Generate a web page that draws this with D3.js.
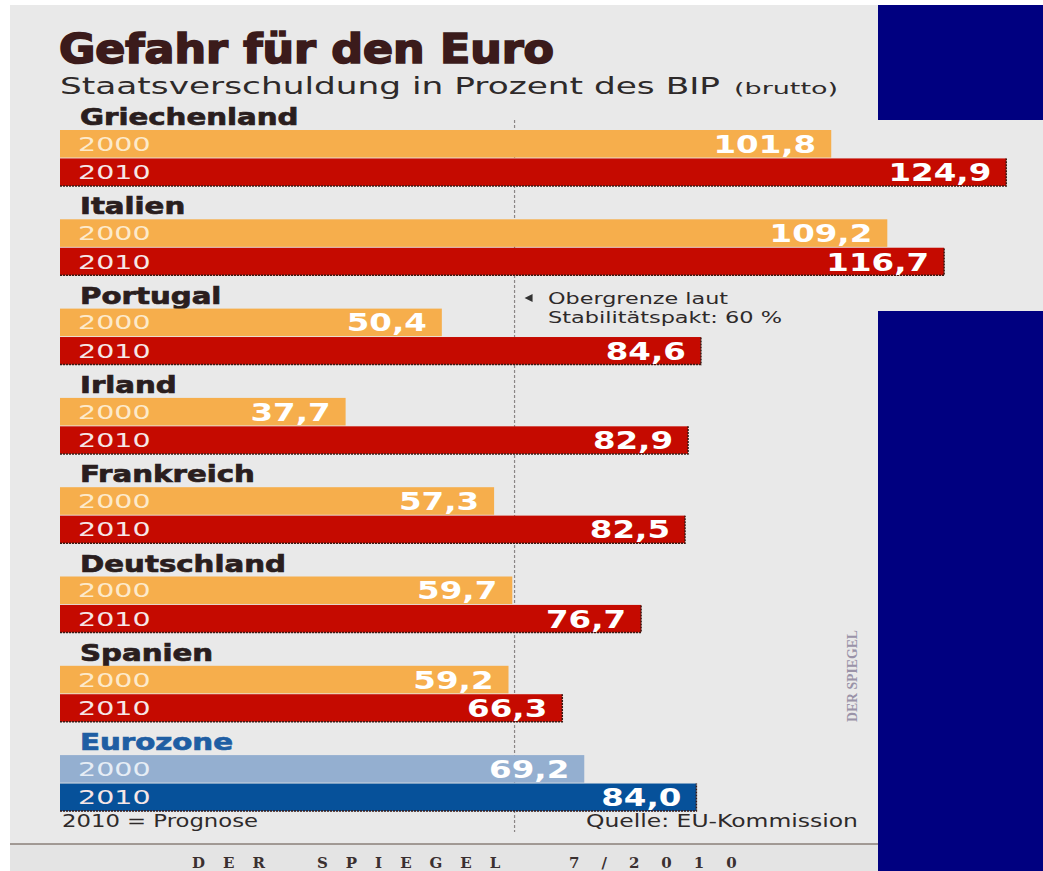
<!DOCTYPE html>
<html>
<head>
<meta charset="utf-8">
<script src="https://cdn.jsdelivr.net/npm/d3@7"></script>
<style>
  html, body { margin: 0; padding: 0; background: #fff; }
  svg { display: block; }
</style>
</head>
<body>
<div id="graph"></div>
<script>
const countries = ['Griechenland', 'Italien', 'Portugal', 'Irland', 'Frankreich', 'Deutschland', 'Spanien', 'Eurozone']
const years = ['2000', '2010']
const values2000 = [101.8, 109.2, 50.4, 37.7, 57.3, 59.7, 59.2, 69.2]
const values2010 = [124.9, 116.7, 84.6, 82.9, 82.5, 76.7, 66.3, 84.0]
const limit = 60

const width = 1043
const height = 871

const de = d3.formatLocale({decimal: ',', thousands: '.', grouping: [3], currency: ['', ' €']})
const fmt = de.format('.1f')

const rows = countries.map((c, i) => ({
  country: c,
  euro: c === 'Eurozone',
  bars: [
    {year: years[0], value: values2000[i]},
    {year: years[1], value: values2010[i]}
  ]
}))

const svg = d3.select('#graph')
  .append('svg')
  .attr('width', width)
  .attr('height', height)

// paper
svg.append('rect').attr('x', 10).attr('y', 5).attr('width', 870).attr('height', 866).attr('fill', '#e9e9e9')
// footer band
svg.append('rect').attr('x', 10).attr('y', 844).attr('width', 870).attr('height', 27).attr('fill', '#e4e4e4')
svg.append('line').attr('x1', 10).attr('x2', 880).attr('y1', 844).attr('y2', 844)
  .attr('stroke', '#8a7f78').attr('stroke-width', 1.5)

// navy blocks on the right
svg.append('rect').attr('x', 878).attr('y', 5).attr('width', 165).attr('height', 115).attr('fill', '#000080')
svg.append('rect').attr('x', 878).attr('y', 311).attr('width', 165).attr('height', 560).attr('fill', '#000080')
svg.append('rect').attr('x', 880).attr('y', 120).attr('width', 163).attr('height', 191).attr('fill', '#e9e9e9')

const x = d3.scaleLinear().domain([0, 125]).range([60, 1007])

const y = d3.scaleBand().domain(countries).range([103, 103 + 8 * 89.3])
const yInner = d3.scaleBand().domain(years).range([27, 83]).paddingInner(0.03)

// title
svg.append('text')
  .attr('x', 59).attr('y', 63)
  .attr('font-family', 'DejaVu Sans Condensed, DejaVu Sans')
  .attr('font-weight', 'bold')
  .attr('font-size', 41)
  .attr('textLength', 495)
  .attr('lengthAdjust', 'spacingAndGlyphs')
  .attr('fill', '#3b1b1b')
  .attr('stroke', '#3b1b1b')
  .attr('stroke-width', 1.6)
  .text('Gefahr für den Euro')

const sub = svg.append('text')
  .attr('x', 60).attr('y', 94)
  .attr('font-family', 'DejaVu Sans')
  .attr('font-size', 23)
  .attr('fill', '#2e2a2a')
sub.append('tspan').attr('textLength', 660).attr('lengthAdjust', 'spacingAndGlyphs')
  .text('Staatsverschuldung in Prozent des BIP')
sub.append('tspan').attr('x', 734).attr('font-size', 16).attr('textLength', 104)
  .attr('lengthAdjust', 'spacingAndGlyphs').text('(brutto)')

// 60% guide
svg.append('line')
  .attr('x1', x(limit)).attr('x2', x(limit))
  .attr('y1', 120).attr('y2', 832)
  .attr('stroke', '#8a8585')
  .attr('stroke-width', 1.2)
  .attr('stroke-dasharray', '3,2')

const colors = {
  normal: {'2000': '#f6ae4c', '2010': '#c50a00'},
  euro: {'2000': '#94afd0', '2010': '#06519a'}
}

const g = svg.selectAll('g.row')
  .data(rows)
  .join('g')
  .attr('class', 'row')
  .attr('transform', d => `translate(0,${y(d.country)})`)

g.append('text')
  .attr('transform', 'translate(80,22) scale(1.3,1)')
  .attr('font-family', 'DejaVu Sans')
  .attr('font-weight', 'bold')
  .attr('font-size', 22.5)
  .attr('fill', d => d.euro ? '#1f5ea3' : '#2a1e1e')
  .attr('stroke', d => d.euro ? '#1f5ea3' : '#2a1e1e')
  .attr('stroke-width', 0.7)
  .text(d => d.country)

const bar = g.selectAll('g.bar')
  .data(d => d.bars.map(b => ({...b, euro: d.euro})))
  .join('g')
  .attr('class', 'bar')
  .attr('transform', d => `translate(0,${yInner(d.year)})`)

bar.append('rect')
  .attr('x', x(0))
  .attr('width', d => x(d.value) - x(0))
  .attr('height', yInner.bandwidth())
  .attr('fill', d => (d.euro ? colors.euro : colors.normal)[d.year])

bar.filter(d => d.year === '2010').append('path')
  .attr('d', d => `M${x(0)},${yInner.bandwidth()}H${x(d.value)}V0`)
  .attr('fill', 'none')
  .attr('stroke', '#3a1a14')
  .attr('stroke-width', 1.5)
  .attr('stroke-dasharray', '2,1')

bar.append('text')
  .attr('transform', `translate(78,${yInner.bandwidth() / 2 + 7}) scale(1.5,1)`)
  .attr('font-family', 'DejaVu Sans')
  .attr('font-size', 19)
  .attr('fill', d => d.year === '2000' ? (d.euro ? '#e6edf5' : '#fdeacb') : '#f6e6e6')
  .text(d => d.year)

bar.append('text')
  .attr('transform', d => `translate(${x(d.value) - 15},${yInner.bandwidth() / 2 + 9}) scale(1.3,1)`)
  .attr('text-anchor', 'end')
  .attr('font-family', 'DejaVu Sans')
  .attr('font-weight', 'bold')
  .attr('font-size', 25)
  .attr('fill', '#ffffff')
  .text(d => fmt(d.value))

// annotation
svg.append('path')
  .attr('d', `M${x(limit) + 10},298 l8,-4 v8 z`)
  .attr('fill', '#333')
const note = svg.append('text')
  .attr('font-family', 'DejaVu Sans')
  .attr('font-size', 16)
  .attr('fill', '#2e2a2a')
note.append('tspan').attr('x', 548).attr('y', 304).attr('textLength', 180)
  .attr('lengthAdjust', 'spacingAndGlyphs').text('Obergrenze laut')
note.append('tspan').attr('x', 548).attr('y', 323).attr('textLength', 234)
  .attr('lengthAdjust', 'spacingAndGlyphs').text('Stabilitätspakt: 60 %')

// footnotes
svg.append('text')
  .attr('x', 62).attr('y', 827)
  .attr('font-family', 'DejaVu Sans')
  .attr('font-size', 18)
  .attr('textLength', 196)
  .attr('lengthAdjust', 'spacingAndGlyphs')
  .attr('fill', '#2e2a2a')
  .text('2010 = Prognose')
svg.append('text')
  .attr('x', 586).attr('y', 827)
  .attr('font-family', 'DejaVu Sans')
  .attr('font-size', 18)
  .attr('textLength', 272)
  .attr('lengthAdjust', 'spacingAndGlyphs')
  .attr('fill', '#2e2a2a')
  .text('Quelle: EU-Kommission')

// vertical credit
svg.append('text')
  .attr('transform', 'translate(857,722) rotate(-90)')
  .attr('font-family', 'Liberation Serif, DejaVu Serif')
  .attr('font-weight', 'bold')
  .attr('font-size', 14)
  .attr('textLength', 92)
  .attr('lengthAdjust', 'spacingAndGlyphs')
  .attr('fill', '#9a93a8')
  .text('DER SPIEGEL')

// footer line
const foot = svg.append('text')
  .attr('y', 868)
  .attr('font-family', 'DejaVu Serif, Liberation Serif')
  .attr('font-weight', 'bold')
  .attr('font-size', 15)
  .attr('letter-spacing', 18)
  .attr('fill', '#3a3030')
foot.append('tspan').attr('x', 192).text('DER')
foot.append('tspan').attr('x', 317).text('SPIEGEL')
foot.append('tspan').attr('x', 569).attr('letter-spacing', 22).text('7/2010')
</script>
</body>
</html>
